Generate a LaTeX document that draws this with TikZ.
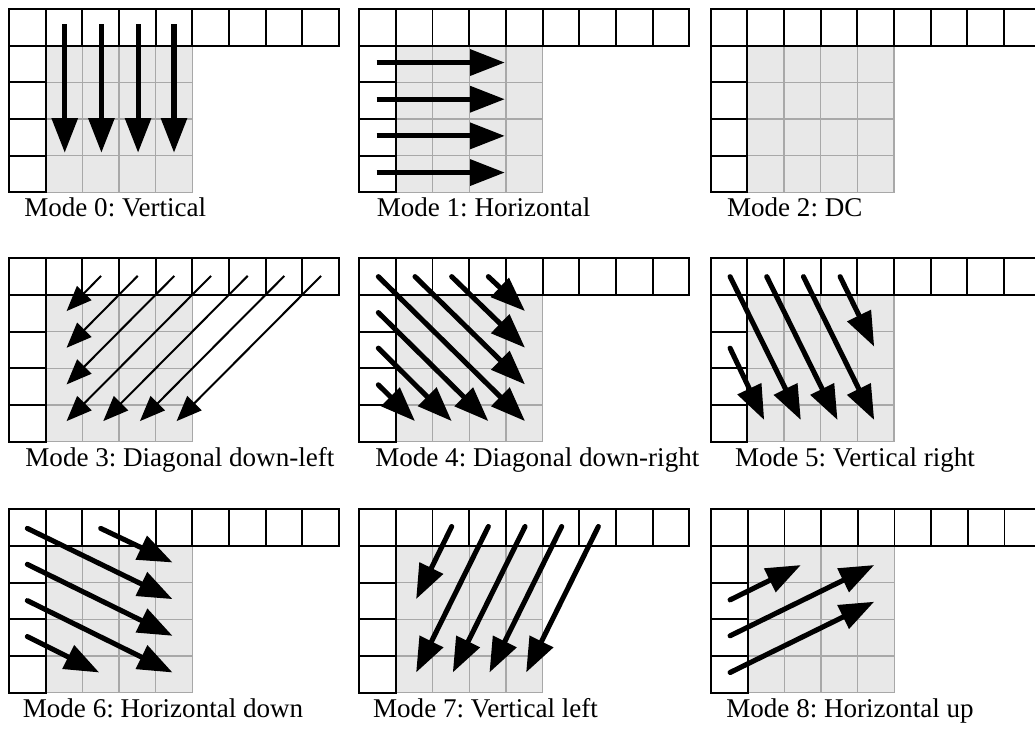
\documentclass[tikz,border=0pt]{standalone}
\usepackage{fontspec}
\setmainfont{Liberation Serif}
\usepackage{tikz}
\usetikzlibrary{arrows.meta}

\definecolor{cellgrey}{HTML}{E8E8E8}
\definecolor{linegrey}{HTML}{A8A8A8}

\tikzstyle{refbox} = [draw=black, line width=1.3pt]
\tikzstyle{cellgrid} = [draw=linegrey, line width=1.1pt]
\tikzstyle{ray} = [line width=3.8pt, line cap=round, -{Triangle[length=26pt,width=19pt]}]
\tikzstyle{flatray} = [ray, line cap=butt]
\tikzstyle{thinray} = [line width=1.5pt, -{Triangle[length=19pt,width=15pt]}]
\tikzstyle{modelabel} = [anchor=base west, inner sep=0pt, font=\fontsize{20.3}{24}\selectfont]

% 4x4 block with its top and left neighbours, one unit per sample
\newcommand{\predgrid}{%
  \fill[cellgrey] (1,1) rectangle (5,5);
  \foreach \i in {1,...,4} {
    \foreach \j in {1,...,4} \draw[cellgrid] (\i,\j) rectangle ++(1,1);
  }
  \foreach \i in {0,...,8} \draw[refbox] (\i,0) rectangle ++(1,1);
  \foreach \j in {1,...,4} \draw[refbox] (0,\j) rectangle ++(1,1);
}

\begin{document}
\frenchspacing
\begin{tikzpicture}[x=27.5pt, y=-27.5pt]
\clip (0,0) rectangle (28.225,19.88);

% Mode 0
\begin{scope}[shift={(0.2455,0.2455)}]
\predgrid
\foreach \x in {1.52,2.52,3.52,4.5} \draw[flatray] (\x,0.41) -- (\x,3.92);
\node (m0) [modelabel] at (0.41,5.67) {Mode 0: Vertical};
\end{scope}

% Mode 1
\begin{scope}[shift={(9.798,0.2455)}]
\predgrid
\foreach \y in {1.46,2.46,3.46,4.46} \draw[flatray] (0.47,\y) -- (3.97,\y);
\node (m1) [modelabel] at (0.47,5.67) {Mode 1: Horizontal};
\end{scope}

% Mode 2
\begin{scope}[shift={(19.38,0.2455)}]
\predgrid
\node (m2) [modelabel] at (0.44,5.67) {Mode 2: DC};
\end{scope}

% Mode 3
\begin{scope}[shift={(0.2455,7.044)}]
\predgrid
\draw[thinray] (2.51,0.48) -- (1.57,1.44);
\draw[thinray] (3.51,0.48) -- (1.57,2.44);
\draw[thinray] (4.51,0.48) -- (1.57,3.44);
\draw[thinray] (5.51,0.48) -- (1.57,4.44);
\draw[thinray] (6.51,0.48) -- (2.57,4.44);
\draw[thinray] (7.51,0.48) -- (3.57,4.44);
\draw[thinray] (8.51,0.48) -- (4.57,4.44);
\node (m3) [modelabel] at (0.44,5.68) {Mode 3: Diagonal down-left};
\end{scope}

% Mode 4
\begin{scope}[shift={(9.798,7.044)}]
\predgrid
\draw[ray] (3.52,0.50) -- (4.52,1.44);
\draw[ray] (2.52,0.50) -- (4.52,2.44);
\draw[ray] (1.52,0.50) -- (4.52,3.44);
\draw[ray] (0.52,0.50) -- (4.52,4.44);
\draw[ray] (0.52,1.48) -- (3.52,4.44);
\draw[ray] (0.52,2.45) -- (2.52,4.44);
\draw[ray] (0.52,3.45) -- (1.52,4.44);
\node (m4) [modelabel] at (0.43,5.68) {Mode 4: Diagonal down-right};
\end{scope}

% Mode 5
\begin{scope}[shift={(19.38,7.044)}]
\predgrid
\draw[ray] (0.53,0.50) -- (2.46,4.41);
\draw[ray] (1.53,0.50) -- (3.46,4.41);
\draw[ray] (2.53,0.50) -- (4.46,4.41);
\draw[ray] (3.53,0.50) -- (4.46,2.41);
\draw[ray] (0.53,2.45) -- (1.46,4.41);
\node (m5) [modelabel] at (0.66,5.68) {Mode 5: Vertical right};
\end{scope}

% Mode 6
\begin{scope}[shift={(0.2455,13.889)}]
\predgrid
\draw[ray] (2.50,0.52) -- (4.46,1.45);
\draw[ray] (0.50,0.52) -- (4.46,2.45);
\draw[ray] (0.50,1.50) -- (4.46,3.45);
\draw[ray] (0.50,2.49) -- (4.46,4.45);
\draw[ray] (0.50,3.47) -- (2.46,4.45);
\node (m6) [modelabel] at (0.37,5.68) {Mode 6: Horizontal down};
\end{scope}

% Mode 7
\begin{scope}[shift={(9.798,13.889)}]
\predgrid
\draw[ray] (2.52,0.47) -- (1.55,2.45);
\draw[ray] (3.52,0.47) -- (1.55,4.45);
\draw[ray] (4.52,0.47) -- (2.55,4.45);
\draw[ray] (5.52,0.47) -- (3.55,4.45);
\draw[ray] (6.52,0.47) -- (4.55,4.45);
\node (m7) [modelabel] at (0.37,5.68) {Mode 7: Vertical left};
\end{scope}

% Mode 8
\begin{scope}[shift={(19.39,13.889)}]
\predgrid
\draw[ray] (0.52,2.47) -- (2.45,1.52);
\draw[ray] (0.52,3.45) -- (4.45,1.52);
\draw[ray] (0.52,4.45) -- (4.45,2.52);
\node (m8) [modelabel] at (0.41,5.68) {Mode 8: Horizontal up};
\end{scope}
\end{tikzpicture}
\end{document}
